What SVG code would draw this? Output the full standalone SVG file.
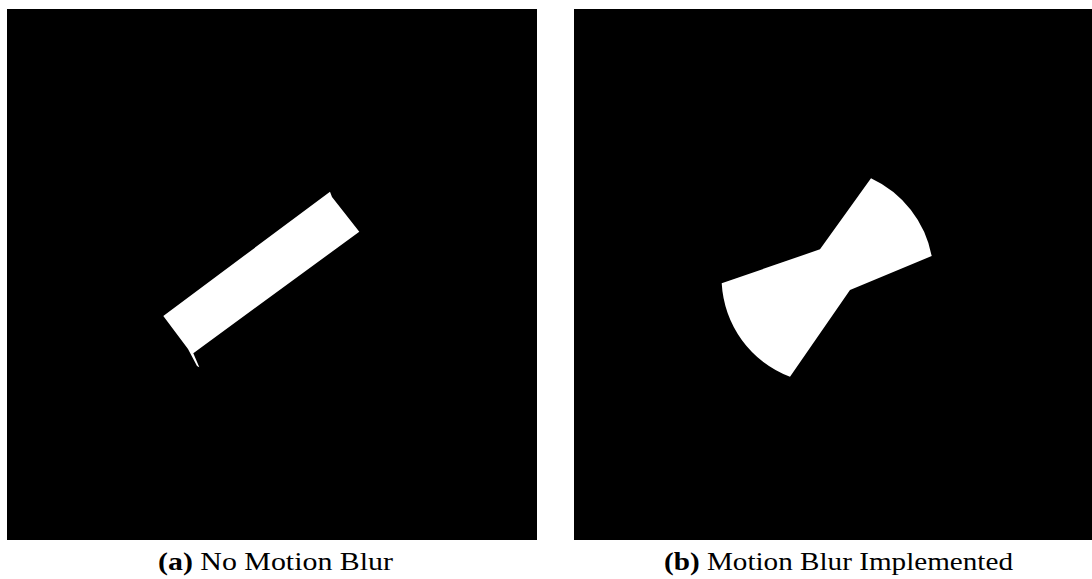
<svg xmlns="http://www.w3.org/2000/svg" width="1092" height="579" viewBox="0 0 1092 579">
<style>
.panel{fill:#000}
.shape{fill:#fff}
.cap{font-family:"Liberation Serif","DejaVu Serif",serif;font-size:25px;fill:#000}
.b{font-weight:bold}
</style>
<rect width="1092" height="579" fill="#fff"/>
<g id="panel-a">
<rect class="panel" x="7" y="9" width="530" height="531"/>
<polygon class="shape" points="330,191.7 332,197 359.3,231.7 193.3,353.3 199.3,367.3 197,366 188,349 163.3,316"/>
</g>
<g id="panel-b">
<rect class="panel" x="574" y="9" width="518" height="531"/>
<path class="shape" d="M871,178.3 A108,108 0 0 1 931.7,256 L850,290 L790,376.7 A106,106 0 0 1 721.7,283.3 L820,249.3 Z"/>
</g>
<g id="captions">
<text class="cap" x="158" y="570" textLength="235" lengthAdjust="spacingAndGlyphs"><tspan class="b">(a)</tspan> No Motion Blur</text>
<text class="cap" x="664" y="570" textLength="349" lengthAdjust="spacingAndGlyphs"><tspan class="b">(b)</tspan> Motion Blur Implemented</text>
</g>
</svg>
